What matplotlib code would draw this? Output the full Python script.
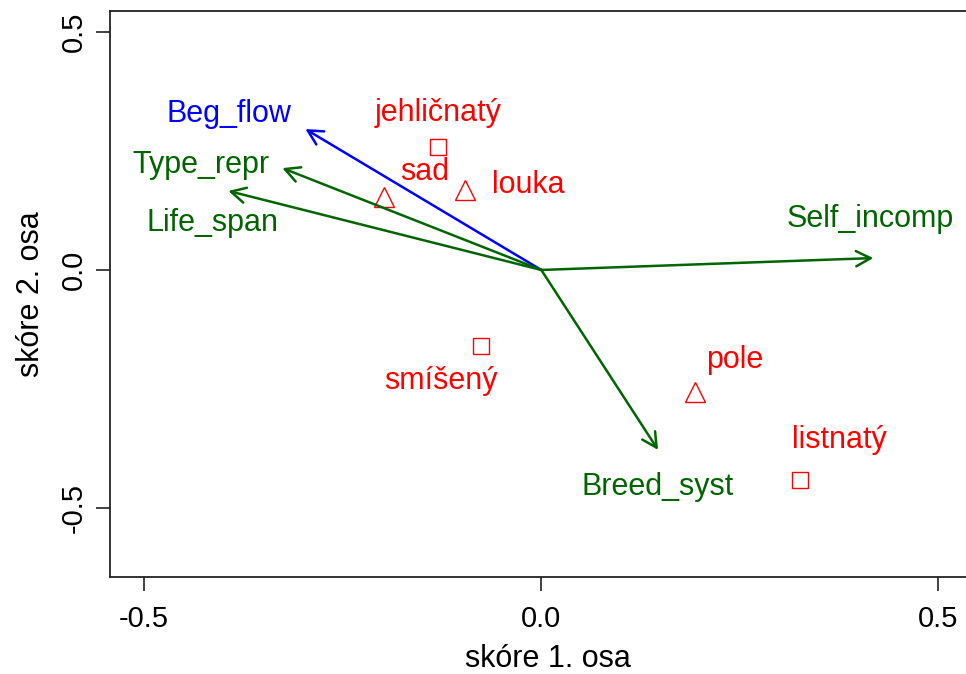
import matplotlib
matplotlib.use("Agg")
from matplotlib import pyplot as plt

plt.rcParams['font.family'] = ['Liberation Sans', 'DejaVu Sans']

# environmental variables (arrows)
var_names = ['Beg_flow', 'Type_repr', 'Life_span', 'Self_incomp', 'Breed_syst']
var_x = [-0.297, -0.326, -0.394, 0.418, 0.147]
var_y = [0.296, 0.214, 0.166, 0.025, -0.378]
var_lab_x = [-0.393, -0.429, -0.414, 0.414, 0.146]
var_lab_y = [0.328, 0.221, 0.099, 0.107, -0.456]
var_colors = ['#0000FF', '#006400', '#006400', '#006400', '#006400']

# habitat centroids
site_names = ['jehličnatý', 'sad', 'louka', 'smíšený', 'pole', 'listnatý']
site_x = [-0.130, -0.198, -0.096, -0.076, 0.194, 0.326]
site_y = [0.258, 0.153, 0.168, -0.160, -0.256, -0.441]
site_marker = ['s', '^', '^', 's', '^', 's']
site_lab_x = [-0.130, -0.147, -0.016, -0.126, 0.243, 0.375]
site_lab_y = [0.330, 0.206, 0.179, -0.233, -0.189, -0.357]

fig = plt.figure(figsize=(9.66, 6.74), dpi=100)
ax = fig.add_axes([110 / 966, 97 / 674, 1.02 - 110 / 966, 566 / 674])
ax.set_xlim(-0.543, 0.559)
ax.set_ylim(-0.645, 0.544)

for x, y, c in zip(var_x, var_y, var_colors):
    ax.annotate('', xy=(x, y), xytext=(0, 0),
                arrowprops=dict(arrowstyle='->,head_length=1.05,head_width=0.55',
                                color=c, lw=1.8, shrinkA=0, shrinkB=0,
                                mutation_scale=10))
for name, x, y, c in zip(var_names, var_lab_x, var_lab_y, var_colors):
    ax.text(x, y, name, color=c, fontsize=22, ha='center', va='center')

for x, y, m in zip(site_x, site_y, site_marker):
    ax.plot(x, y, marker=m, markersize=14 if m == '^' else 12,
            markerfacecolor='none', markeredgecolor='#FF0000', markeredgewidth=1.0,
            linestyle='none')
for name, x, y in zip(site_names, site_lab_x, site_lab_y):
    ax.text(x, y, name, color='#FF0000', fontsize=22, ha='center', va='center')

for s in ax.spines.values():
    s.set_color('#222222')
    s.set_linewidth(1.3)

ax.set_xticks([-0.5, 0.0, 0.5])
ax.set_xticklabels(['-0.5', '0.0', '0.5'])
ax.set_yticks([-0.5, 0.0, 0.5])
ax.set_yticklabels(['-0.5', '0.0', '0.5'], rotation=90, va='center')
ax.tick_params(labelsize=21, length=10, width=1.2, color='#222222')
ax.tick_params(axis='x', pad=10)
ax.tick_params(axis='y', pad=6)
ax.set_xlabel('skóre 1. osa', fontsize=22, labelpad=8)
ax.set_ylabel('skóre 2. osa', fontsize=22, labelpad=10)

fig.savefig('out.png', dpi=100)
